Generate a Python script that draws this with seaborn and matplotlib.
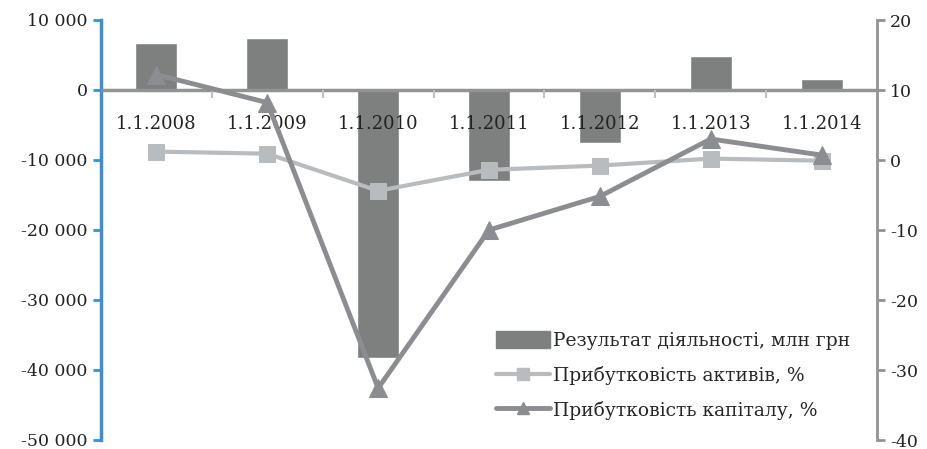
import seaborn as sns
import pandas as pd
import numpy as np
from matplotlib import pyplot as plt
from matplotlib.lines import Line2D
from matplotlib.patches import Patch
from matplotlib.ticker import FuncFormatter, FixedLocator

dates = ['1.1.2008', '1.1.2009', '1.1.2010', '1.1.2011', '1.1.2012', '1.1.2013', '1.1.2014']
result = [6700, 7400, -38300, -13000, -7600, 4800, 1600]
roa = [1.2, 0.9, -4.4, -1.4, -0.8, 0.2, -0.1]
roe = [12.2, 8.2, -32.6, -10.0, -5.2, 3.0, 0.7]

labels = ['Результат діяльності, млн грн', 'Прибутковість активів, %', 'Прибутковість капіталу, %']

sns.set_theme(style="white")
plt.rcParams['font.family'] = ['DejaVu Serif']
plt.rcParams['axes.unicode_minus'] = False

df = pd.DataFrame({'date': dates, 'result': result, 'roa': roa, 'roe': roe})

bar_col = '#7e8080'
roa_col = '#b9bcbf'
roe_col = '#8c8d90'
axis_gray = '#939393'

fig = plt.figure(figsize=(9.27, 4.49), dpi=100)
ax = fig.add_axes([101 / 927, 9 / 449, 776 / 927, 420 / 449])
sns.barplot(data=df, x='date', y='result', color=bar_col, width=0.38, saturation=1, ax=ax)
ax.set_axisbelow(False)
ax.set_ylim(-50000, 10000)
ax.set_xlim(-0.5, 6.5)
ax.set_yticks(np.arange(-50000, 10001, 10000))
ax.yaxis.set_major_formatter(FuncFormatter(lambda v, p: f'{int(v):,}'.replace(',', ' ')))
ax.set_xlabel('')
ax.set_ylabel('')

for s in ['top', 'right']:
    ax.spines[s].set_visible(False)
ax.spines['left'].set_color('#3b8fd3')
ax.spines['left'].set_linewidth(2.5)
ax.spines['bottom'].set_position(('data', 0))
ax.spines['bottom'].set_color(axis_gray)
ax.spines['bottom'].set_linewidth(2.5)
ax.tick_params(axis='y', which='major', left=True, length=6, width=2, color='#3b8fd3',
               labelsize=12.5, labelcolor='#222222')
ax.tick_params(axis='x', which='major', bottom=False, labelsize=13, labelcolor='#222222', pad=12)
ax.xaxis.set_minor_locator(FixedLocator(np.arange(0.5, 6.5, 1)))
ax.tick_params(axis='x', which='minor', bottom=True, length=6, width=1.5, color='#c0c0c0')

ax2 = ax.twinx()
sns.lineplot(data=df, x='date', y='roa', sort=False, color=roa_col, lw=3, marker='s',
             markersize=12, markeredgecolor=roa_col, ax=ax2)
sns.lineplot(data=df, x='date', y='roe', sort=False, color=roe_col, lw=3.5, marker='^',
             markersize=13, markeredgecolor=roe_col, ax=ax2)
ax2.set_ylim(-40, 20)
ax2.set_yticks(np.arange(-40, 21, 10))
ax2.set_ylabel('')
ax2.set_xlabel('')
for s in ['top', 'left', 'bottom']:
    ax2.spines[s].set_visible(False)
ax2.spines['right'].set_color(axis_gray)
ax2.spines['right'].set_linewidth(2)
ax2.tick_params(axis='y', right=True, length=6, width=2, color=axis_gray, labelsize=12.5,
                labelcolor='#222222')

handles = [
    Patch(facecolor=bar_col, edgecolor=bar_col),
    Line2D([], [], color=roa_col, lw=3, marker='s', markersize=8),
    Line2D([], [], color=roe_col, lw=3.5, marker='^', markersize=8),
]
ax2.legend(handles, labels, loc='lower right', bbox_to_anchor=(0.975, 0.03), frameon=False,
           fontsize=13.5, handlelength=2.9, handleheight=1.0, handletextpad=0.15,
           labelspacing=0.85, borderaxespad=0)

plt.savefig('out.png', dpi=100)
